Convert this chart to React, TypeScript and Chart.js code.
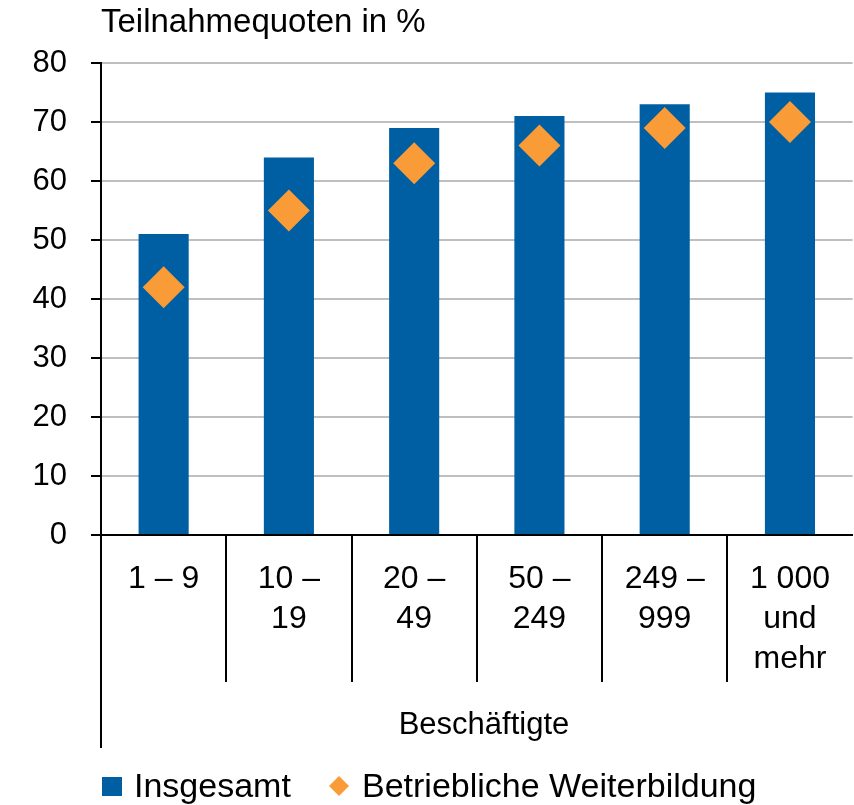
import React, { useEffect, useRef } from "react";
import { Chart, registerables } from "chart.js";

Chart.register(...registerables);

const categories: string[][] = [
  ["1 – 9"],
  ["10 –", "19"],
  ["20 –", "49"],
  ["50 –", "249"],
  ["249 –", "999"],
  ["1 000", "und", "mehr"],
];
const insgesamt = [51, 64, 69, 71, 73, 75];
const betrieblich = [42, 55, 63, 66, 69, 70];
const yTitle = "Teilnahmequoten in %";
const xTitle = "Beschäftigte";
const legendLabels = ["Insgesamt", "Betriebliche Weiterbildung"];

const BLUE = "#005FA2";
const ORANGE = "#F99B37";
const FONT = '"Liberation Sans", Arial, sans-serif';

export default function App() {
  const ref = useRef<HTMLCanvasElement | null>(null);

  useEffect(() => {
    document.body.style.margin = "0";
    const canvas = ref.current!;
    const decor = {
      id: "decor",
      afterDraw(chart: any) {
        const ctx = chart.ctx;
        const xs = chart.scales.x;
        const area = chart.chartArea;
        ctx.save();
        ctx.strokeStyle = "#000";
        ctx.lineWidth = 2;
        // y axis extension
        ctx.beginPath();
        ctx.moveTo(area.left, area.bottom);
        ctx.lineTo(area.left, 748);
        ctx.stroke();
        // category dividers
        for (let i = 1; i < categories.length; i++) {
          const x = Math.round((xs.getPixelForTick(i - 1) + xs.getPixelForTick(i)) / 2);
          ctx.beginPath();
          ctx.moveTo(x, area.bottom);
          ctx.lineTo(x, 682);
          ctx.stroke();
        }
        // title
        ctx.fillStyle = "#000";
        ctx.font = `33px ${FONT}`;
        ctx.textAlign = "left";
        ctx.textBaseline = "middle";
        ctx.fillText(yTitle, 101, 23);
        // x title
        ctx.font = `31px ${FONT}`;
        ctx.textAlign = "center";
        ctx.fillText(xTitle, 484, 725);
        // legend
        ctx.fillStyle = BLUE;
        ctx.fillRect(102, 777, 20, 19);
        ctx.fillStyle = "#000";
        ctx.font = `34px ${FONT}`;
        ctx.textAlign = "left";
        ctx.textBaseline = "alphabetic";
        ctx.fillText(legendLabels[0], 134, 797);
        ctx.fillStyle = ORANGE;
        ctx.beginPath();
        const cx = 339, cy = 786, r = 10;
        ctx.moveTo(cx, cy - r);
        ctx.lineTo(cx + r, cy);
        ctx.lineTo(cx, cy + r);
        ctx.lineTo(cx - r, cy);
        ctx.closePath();
        ctx.fill();
        ctx.fillStyle = "#000";
        ctx.fillText(legendLabels[1], 362, 797);
        ctx.restore();
      },
    };

    const chart = new Chart(canvas, {
      type: "bar",
      data: {
        labels: categories as any,
        datasets: [
          {
            type: "line",
            label: legendLabels[1],
            data: betrieblich,
            showLine: false,
            pointStyle: "rectRot",
            pointRadius: 21,
            pointHoverRadius: 21,
            backgroundColor: ORANGE,
            borderColor: ORANGE,
            borderWidth: 0,
            order: 0,
          } as any,
          {
            type: "bar",
            label: legendLabels[0],
            data: insgesamt,
            backgroundColor: BLUE,
            borderWidth: 0,
            categoryPercentage: 1,
            barPercentage: 0.4,
            order: 1,
          },
        ],
      },
      options: {
        responsive: false,
        animation: false,
        devicePixelRatio: 1,
        layout: { autoPadding: false, padding: { top: 63, left: 0, right: -3, bottom: 0 } },
        plugins: {
          legend: { display: false },
          title: { display: false },
          tooltip: { enabled: false },
        },
        scales: {
          x: {
            grid: { display: false, drawTicks: false },
            border: { color: "#000", width: 2 },
            ticks: {
              color: "#000",
              font: { family: FONT, size: 32, lineHeight: 1.25 },
              padding: 24,
              maxRotation: 0,
              autoSkip: false,
            },
            afterFit(scale: any) {
              scale.height = 270;
            },
          },
          y: {
            min: 0,
            max: 80,
            ticks: {
              stepSize: 10,
              color: "#000",
              font: { family: FONT, size: 31 },
              padding: 24,
            },
            grid: {
              color: "#BFBFBF",
              lineWidth: 2,
              tickLength: 10,
              tickColor: "#000",
              tickWidth: 2,
            },
            border: { color: "#000", width: 2 },
            afterFit(scale: any) {
              scale.width = 101;
            },
          },
        },
      },
      plugins: [decor],
    });
    return () => chart.destroy();
  }, []);

  return (
    <div style={{ width: 854, height: 805, position: "relative" }}>
      <canvas ref={ref} width={854} height={805} style={{ display: "block" }} />
    </div>
  );
}
